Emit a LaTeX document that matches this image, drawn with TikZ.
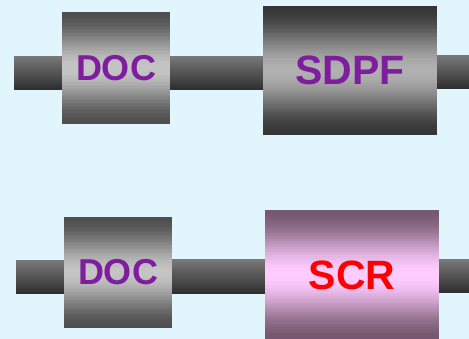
\documentclass[tikz,border=0pt]{standalone}
\usepackage{fontspec}
\setmainfont{Liberation Sans}
\pgfdeclarelayer{sky}
\pgfdeclarelayer{pipes}
\pgfdeclarelayer{bodies}
\pgfsetlayers{sky,pipes,bodies,main}
\definecolor{skyback}{HTML}{E1F5FD}
\definecolor{labelpurple}{RGB}{126,30,158}
\definecolor{pipetop}{HTML}{7A7A7A}
\definecolor{pipebot}{HTML}{2E2E2E}
\definecolor{docedge}{HTML}{4F4F4F}
\definecolor{docmid}{HTML}{C4C4C4}
\definecolor{dpfedge}{HTML}{363636}
\definecolor{dpfmid}{HTML}{B0B0B0}
\definecolor{scredge}{RGB}{117,88,111}
\definecolor{scrmid}{RGB}{255,204,255}
\tikzset{
  unit/.style={inner sep=0pt, outer sep=0pt},
  docunit/.style={unit, minimum width=108pt, minimum height=112pt,
    text=labelpurple, font=\fontsize{36}{36}\selectfont\bfseries},
  bigunit/.style={unit, minimum width=174pt, minimum height=129pt,
    font=\fontsize{41}{41}\selectfont\bfseries},
}
% Body of a unit: horizontal bands, dark at top and bottom, light in the middle
% (smoothstep easing between the edge and middle colours).
\newcommand\bodybands[4]{% #1 lower-left, #2 upper-right, #3 edge colour, #4 middle colour
  \path #1; \pgfgetlastxy{\gbx}{\gby}
  \path #2; \pgfgetlastxy{\gcx}{\gcy}
  \foreach \k in {0,...,79}{
    \pgfmathsetmacro\gya{\gby+(\gcy-\gby)*\k/80}
    \pgfmathsetmacro\gyb{\gby+(\gcy-\gby)*min(\k+1.5,80)/80}
    \pgfmathsetmacro\gd{abs(2*(\k+0.5)/80-1)}
    \pgfmathtruncatemacro\gmix{round((3*\gd*\gd-2*\gd*\gd*\gd)*100)}
    \fill[#3!\gmix!#4] (\gbx,\gya pt) rectangle (\gcx,\gyb pt);
  }
}
% Pipe section: light at top fading to dark at bottom.
\newcommand\pipebands[2]{% #1 lower-left, #2 upper-right
  \path #1; \pgfgetlastxy{\gbx}{\gby}
  \path #2; \pgfgetlastxy{\gcx}{\gcy}
  \foreach \k in {0,...,33}{
    \pgfmathsetmacro\gya{\gby+(\gcy-\gby)*\k/34}
    \pgfmathsetmacro\gyb{\gby+(\gcy-\gby)*min(\k+1.5,34)/34}
    \pgfmathtruncatemacro\gmix{round((\k+0.5)/34*100)}
    \fill[pipetop!\gmix!pipebot] (\gbx,\gya pt) rectangle (\gcx,\gyb pt);
  }
}
\begin{document}
\begin{tikzpicture}[x=1pt,y=1pt]
\begin{pgfonlayer}{sky}
  \fill[skyback] (0,0) rectangle (469,339);
\end{pgfonlayer}
\useasboundingbox (0,0) rectangle (469,339);

% upper line: DOC followed by SDPF
\node[docunit] (doc1) at (116,271) {DOC};
\node[bigunit, text=labelpurple] (sdpf) at (350,268.5) {SDPF};
\coordinate (in1) at (14,249);
\coordinate (out1) at (469,284);

% lower line: DOC followed by SCR
\node[docunit, minimum height=111pt] (doc2) at (118,66.5) {DOC};
\node[bigunit, minimum height=130pt, text=red] (scr) at (352,64) {SCR};
\coordinate (in2) at (16,45);
\coordinate (out2) at (469,80);

\begin{pgfonlayer}{bodies}
  \bodybands{(doc1.south west)}{(doc1.north east)}{docedge}{docmid}
  \bodybands{(sdpf.south west)}{(sdpf.north east)}{dpfedge}{dpfmid}
  \bodybands{(doc2.south west)}{(doc2.north east)}{docedge}{docmid}
  \bodybands{(scr.south west)}{(scr.north east)}{scredge}{scrmid}
\end{pgfonlayer}

\begin{pgfonlayer}{pipes}
  \pipebands{(in1)}{([xshift=1pt]doc1.west |- 0,283)}
  \pipebands{([xshift=-1pt]doc1.east |- 0,249)}{([xshift=1pt]sdpf.west |- 0,283)}
  \pipebands{([xshift=-1pt]sdpf.east |- 0,250)}{(out1)}
  \pipebands{(in2)}{([xshift=1pt]doc2.west |- 0,79)}
  \pipebands{([xshift=-1pt]doc2.east |- 0,45)}{([xshift=1pt]scr.west |- 0,80)}
  \pipebands{([xshift=-1pt]scr.east |- 0,46)}{(out2)}
\end{pgfonlayer}
\end{tikzpicture}
\end{document}
